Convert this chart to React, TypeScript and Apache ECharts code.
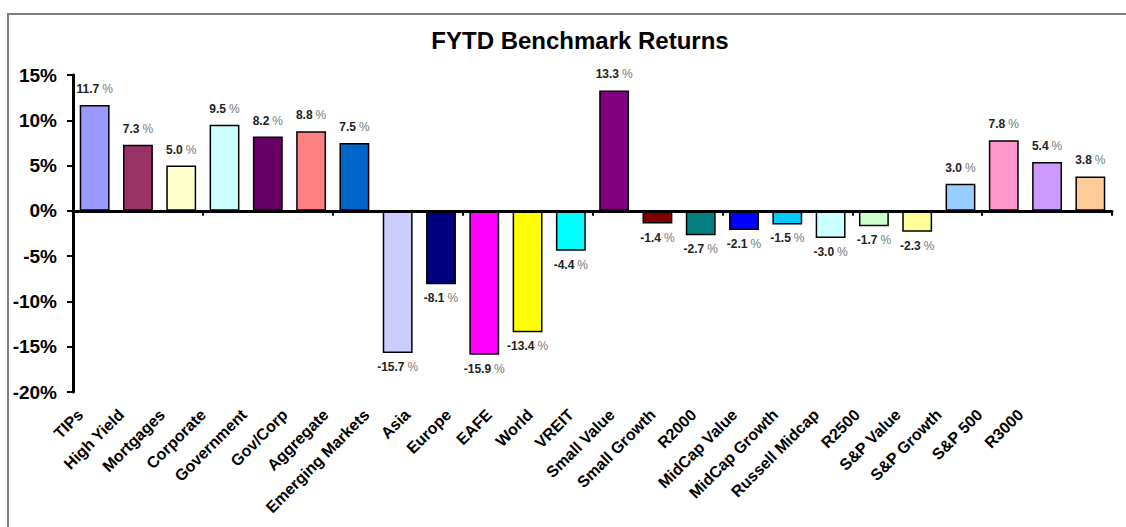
import React, { useEffect, useRef } from "react";
import * as echarts from "echarts";

const categories = [
  "TIPs", "High Yield", "Mortgages", "Corporate", "Government", "Gov/Corp", "Aggregate",
  "Emerging Markets", "Asia", "Europe", "EAFE", "World", "VREIT", "Small Value",
  "Small Growth", "R2000", "MidCap Value", "MidCap Growth", "Russell Midcap", "R2500",
  "S&P Value", "S&P Growth", "S&P 500", "R3000",
];

const returns = [
  11.7, 7.3, 5.0, 9.5, 8.2, 8.8, 7.5,
  -15.7, -8.1, -15.9, -13.4, -4.4, 13.3, -1.4,
  -2.7, -2.1, -1.5, -3.0, -1.7, -2.3,
  3.0, 7.8, 5.4, 3.8,
];

const barColors = [
  "#9999FF", "#993366", "#FFFFCC", "#CCFFFF", "#660066", "#FF8080", "#0066CC",
  "#CCCCFF", "#000080", "#FF00FF", "#FFFF00", "#00FFFF", "#800080", "#800000",
  "#008080", "#0000FF", "#00CCFF", "#CCFFFF", "#CCFFCC", "#FFFF99",
  "#99CCFF", "#FF99CC", "#CC99FF", "#FFCC99",
];

const yTicks = { min: -20, max: 15, interval: 5 };
const titleText = "FYTD Benchmark Returns";

export default function App() {
  const ref = useRef<HTMLDivElement>(null);
  useEffect(() => {
    if (!ref.current) return;
    const chart = echarts.init(ref.current, undefined, { renderer: "svg" });
    const font = "Arial, 'Liberation Sans', sans-serif";
    chart.setOption({
      animation: false,
      backgroundColor: "#ffffff",
      textStyle: { fontFamily: font },
      title: {
        text: titleText,
        left: 575,
        top: 23,
        textAlign: "center",
        textStyle: { fontSize: 24, fontWeight: "bold", color: "#000", fontFamily: font },
      },
      graphic: [
        {
          type: "rect",
          shape: { x: 8, y: 14, width: 1130, height: 530 },
          style: { fill: "none", stroke: "#808080", lineWidth: 2 },
          silent: true,
          z: -1,
        },
      ],
      grid: [
        { left: 73, right: 14, top: 75, bottom: 135 },
        { left: 60, width: 981, top: 75, bottom: 135 },
      ],
      xAxis: [
        {
          type: "category",
          gridIndex: 0,
          data: categories,
          axisLine: { onZero: true, lineStyle: { color: "#000", width: 3 } },
          axisTick: { show: true, alignWithLabel: false, length: 5, lineStyle: { color: "#000", width: 2 } },
          axisLabel: { show: false },
          splitLine: { show: false },
          z: 5,
        },
        {
          type: "category",
          gridIndex: 1,
          data: categories,
          position: "bottom",
          axisLine: { show: false, onZero: false },
          axisTick: { show: false },
          axisLabel: {
            show: true,
            interval: 0,
            rotate: 45,
            margin: 20,
            fontSize: 16,
            fontWeight: "bold",
            color: "#000",
            fontFamily: font,
          },
          splitLine: { show: false },
        },
      ],
      yAxis: [
        {
          type: "value",
          gridIndex: 0,
          min: yTicks.min,
          max: yTicks.max,
          interval: yTicks.interval,
          axisLine: { show: true, lineStyle: { color: "#000", width: 3 } },
          axisTick: { show: true, length: 6, lineStyle: { color: "#000", width: 2 } },
          axisLabel: {
            formatter: "{value}%",
            fontSize: 19,
            fontWeight: "bold",
            color: "#000",
            margin: 16,
            fontFamily: font,
          },
          splitLine: { show: false },
        },
        {
          type: "value",
          gridIndex: 1,
          min: yTicks.min,
          max: yTicks.max,
          interval: yTicks.interval,
          show: false,
        },
      ],
      series: [
        {
          type: "bar",
          xAxisIndex: 0,
          yAxisIndex: 0,
          barCategoryGap: "31%",
          data: returns.map((v, i) => ({
            value: v,
            itemStyle: { color: barColors[i], borderColor: "#000", borderWidth: 1.5 },
            label: { position: v >= 0 ? "top" : "bottom", distance: v >= 0 ? 10 : 8 },
          })),
          label: {
            show: true,
            formatter: (p: any) => `{n|${Number(p.value).toFixed(1)}}{p|%}`,
            rich: {
              n: { fontSize: 12, fontWeight: "bold", color: "#222", fontFamily: font },
              p: { fontSize: 12, color: "#777", fontFamily: font, padding: [0, 0, 0, 3] },
            },
          },
        },
      ],
    });
    return () => chart.dispose();
  }, []);
  return (
    <div
      ref={ref}
      style={{ position: "fixed", left: 0, top: 0, width: 1126, height: 527 }}
    />
  );
}
